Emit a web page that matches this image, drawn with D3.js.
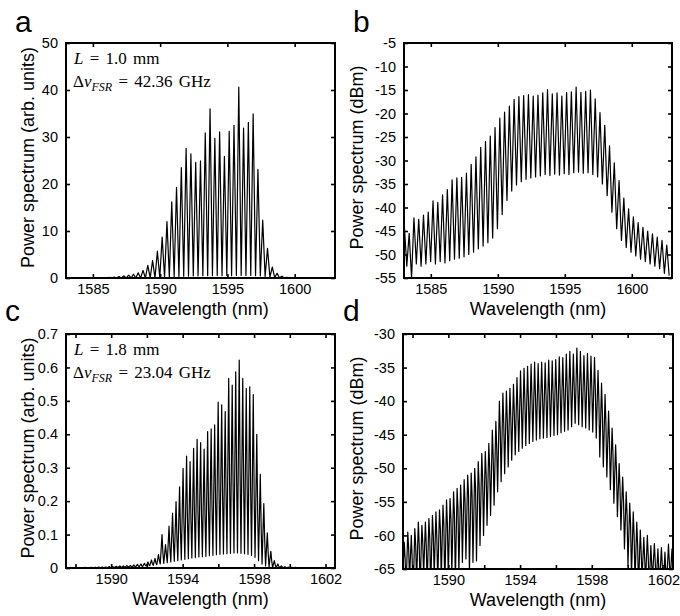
<!DOCTYPE html>
<html>
<head>
<meta charset="utf-8">
<script src="https://cdn.jsdelivr.net/npm/d3@7/dist/d3.min.js"></script>
<style>
body { margin: 0; background: #fff; }
svg { display: block; font-family: "Liberation Sans", Arial, sans-serif; }
</style>
</head>
<body>
<div id="chart"></div>
<script>
// ---- data ----
// panels a/b: L = 1.0 mm, mode spacing ~0.356 nm
var modeStartAB = 1583.03, modeStepAB = 0.356;
// panels c/d: L = 1.8 mm, mode spacing ~0.1965 nm
var modeStartCD = 1587.54, modeStepCD = 0.1965;

var aPeaks = [0.03, 0.03, 0.04, 0.03, 0.04, 0.05, 0.05, 0.06,
    0.08, 0.12, 0.2, 0.3, 0.45, 0.6, 0.8, 1.1, 1.6, 2.7, 3.7, 5.7,
    8.7, 12.0, 16.2, 19.3, 23.5, 27.6, 26.4, 24.6, 24.9, 30.9,
    36.0, 29.7, 31.1, 25.9, 31.2, 32.5, 40.6, 31.9, 33.1, 34.9,
    23.1, 12.3, 6.3, 2.3, 1.0, 0.4, 0.15, 0.08,
    0.05, 0.04, 0.04, 0.03, 0.03, 0.03, 0.02, 0.02];
var aTroughs = [0.01, 0.01, 0.0, 0.01, 0.01, 0.01, 0.01, 0.01, 0.01, 0.01, 0.01, 0.01, 0.01, 0.01, 0.01, 0.01, 0.02, 0.02,
    0.02, 0.03, 0.04, 0.07, 0.13, 0.2, 0.3, 0.35, 0.4, 0.43, 0.45, 0.47, 0.5, 0.48, 0.52, 0.5, 0.53,
    0.5, 0.55, 0.56, 0.54, 0.55, 0.5, 0.45, 0.32, 0.18, 0.08, 0.04, 0.02,
    0.01, 0.01, 0.01, 0.01, 0.01, 0.01, 0.01, 0.01, 0.01, 0.01];

var bPeaks = [-44.1, -45.5, -42.2, -42.5, -41.6, -41.0, -38.6, -38.9, -37.3, -36.2,
    -34.1, -33.7, -33.6, -32.7, -30.8, -29.2, -27.2, -26.0, -24.8, -23.0,
    -21.0, -19.7, -18.4, -17.0, -16.4, -16.2, -16.0, -16.3, -16.1, -15.6,
    -14.9, -15.8, -15.6, -16.3, -15.5, -15.4, -14.4, -15.5, -15.3, -15.0,
    -16.9, -19.8, -22.5, -26.9, -30.5, -34.3, -38.0, -40.3, -42.0, -43.2,
    -44.2, -45.0, -45.6, -46.3, -47.0, -48.0];
var bTroughs = [-50.5, -52.5, -55, -52, -52.5, -52, -51.5, -52, -51.5, -51.8,
    -51.3, -51.0, -50.8, -50.5, -50.0, -49.5, -48.8, -48.2, -47.5, -46.5,
    -44.5, -41.5, -38.5, -36.5, -35.2, -34.5, -34.0, -33.7, -33.5, -33.3,
    -33.0, -33.2, -32.9, -33.1, -32.8, -33.0, -32.6, -32.5, -32.7, -32.6,
    -33.0, -33.5, -35.0, -37.5, -41.0, -44.5, -47.0, -48.5, -49.5, -50.3,
    -51.0, -51.5, -52.0, -52.5, -53.0, -54.0, -54.5];

var cPeaks = [0.001, 0.001, 0.001, 0.0015, 0.001, 0.002, 0.0015, 0.002, 0.002, 0.0025, 0.003, 0.003,
    0.004, 0.004, 0.005, 0.006, 0.006, 0.007, 0.008, 0.009, 0.011, 0.012,
    0.014, 0.018, 0.024, 0.029, 0.04, 0.10, 0.07, 0.125, 0.164, 0.199,
    0.243, 0.298, 0.335, 0.318, 0.358, 0.385, 0.375, 0.356, 0.408, 0.416,
    0.428, 0.496, 0.488, 0.468, 0.567, 0.547, 0.587, 0.622, 0.567, 0.537,
    0.542, 0.519, 0.40, 0.28, 0.193, 0.105, 0.05, 0.022, 0.012, 0.006,
    0.004, 0.003, 0.002, 0.002, 0.0015, 0.001, 0.001, 0.001, 0.001, 0.001, 0.001, 0.001, 0.001, 0.001, 0.001];
var cMids = [0.0005, 0.0005, 0.0005, 0.001, 0.0005, 0.001, 0.001, 0.001, 0.001, 0.0015, 0.0015, 0.002,
    0.002, 0.002, 0.003, 0.003, 0.003, 0.004, 0.004, 0.005, 0.006, 0.006,
    0.008, 0.01, 0.013, 0.016, 0.022, 0.045, 0.04, 0.06, 0.075, 0.09,
    0.11, 0.13, 0.145, 0.14, 0.155, 0.165, 0.16, 0.155, 0.175, 0.18,
    0.2, 0.23, 0.22, 0.215, 0.26, 0.25, 0.27, 0.28, 0.26, 0.245,
    0.235, 0.22, 0.17, 0.12, 0.085, 0.045, 0.022, 0.01, 0.006, 0.003,
    0.002, 0.0015, 0.001, 0.001, 0.001, 0.0005, 0.0005, 0.0005, 0.0005, 0.0005, 0.0005, 0.0005, 0.0005, 0.0005, 0.0005];
var cTroughs = [0.0005, 0.0005, 0.0005, 0.0005, 0.0005, 0.0005, 0.0005, 0.001, 0.001, 0.001, 0.001,
    0.001, 0.0015, 0.0015, 0.002, 0.002, 0.002, 0.0025, 0.003, 0.003, 0.0035,
    0.004, 0.005, 0.006, 0.007, 0.008, 0.01, 0.012, 0.014, 0.016, 0.018,
    0.02, 0.022, 0.024, 0.026, 0.028, 0.03, 0.031, 0.033, 0.034, 0.035,
    0.037, 0.038, 0.04, 0.041, 0.042, 0.043, 0.044, 0.045, 0.045, 0.044,
    0.043, 0.041, 0.038, 0.032, 0.022, 0.012, 0.006, 0.003, 0.0015, 0.001,
    0.001, 0.0008, 0.0006, 0.0005, 0.0005, 0.0005, 0.0005, 0.0005, 0.0005, 0.0005,
    0.0005, 0.0005, 0.0005, 0.0005, 0.0005, 0.0005, 0.0005];

var dPeaks = [-61, -59.5, -60, -59, -58, -58.5, -58, -57.5, -57, -56.5,
    -56.2, -55.5, -54.7, -54.5, -53.5, -53, -52.5, -51.7, -51, -50.7,
    -50, -49, -47.8, -47.5, -46.3, -44.3, -43, -40, -38.8, -38.5,
    -38.1, -37.5, -36.5, -35.5, -35.1, -34.8, -34.5, -34.2, -34.4, -34.2,
    -34.3, -33.9, -34.0, -33.8, -33.4, -33.5, -33.0, -32.6, -33.0, -32.1,
    -32.6, -33.2, -32.9, -33.3, -33.5, -35.4, -37.3, -39.0, -41.5, -44.0,
    -46.5, -49.3, -51.3, -53.5, -55.2, -56.5, -58, -59.2, -60.3, -60,
    -61.5, -61.2, -62, -61.8, -62.5, -61.3, -62];
var dMids = [-63.5, -62, -63.5, -61.5, -61.5, -61, -61.5, -60.5, -60, -60.5,
    -59, -58.5, -58.5, -57.5, -57, -56, -56, -55, -54, -54,
    -53, -52.5, -51.5, -51, -50, -48.5, -47,
    -44.5, -43.5, -43, -42.5, -42, -41.5, -40.5, -40, -39.8, -39.5,
    -39.2, -39.4, -39, -39.2, -38.8, -38.9, -38.6, -38.4, -38.5, -38,
    -37.6, -38, -37.2, -37.6, -38, -37.8, -38.2, -38.5, -40, -42,
    -43.5, -46, -48, -50.5, -53, -55, -57, -58.5, -60, -61.5,
    -62.5, -63.5, -63, -64.5, -64, -65, -64.5, -65.5, -64, -65];
var dTroughs = [-67, -68, -66.5, -69, -67, -68, -66, -67.5, -68, -66, -67, -66.5, -68, -66, -65.8, -67,
    -65.5, -64, -63.5, -65.5, -64, -63.8, -61.5, -60, -58.5, -57,
    -55.5, -53.5, -52, -50.8, -49.8, -48.8, -48, -47.5, -47, -46.6,
    -46.3, -46, -45.8, -45.6, -45.5, -45.4, -45.3, -45.1, -45, -44.7,
    -44.5, -44.3, -43.8, -43.3, -43.5, -43.8, -44, -44.3, -44.6, -45.5,
    -48.3, -49.8, -51.3, -53.2, -55.2, -57.2, -59.2, -62, -64.5,
    -66, -67, -68, -66.5, -67, -68, -66, -67.5, -66.8, -68, -67, -66.5, -68];

// tick values
var abXTicks = [1585, 1590, 1595, 1600];
var cdXTicks = [1588, 1590, 1592, 1594, 1596, 1598, 1600, 1602];
var cdXLabels = [1590, 1594, 1598, 1602];
var aYTicks = [0, 10, 20, 30, 40, 50];
var bYTicks = [-55, -50, -45, -40, -35, -30, -25, -20, -15, -10, -5];
var cYTicks = [0, 0.1, 0.2, 0.3, 0.4, 0.5, 0.6, 0.7];
var dYTicks = [-65, -60, -55, -50, -45, -40, -35, -30];

// ---- drawing ----
var midFrac = 0.25;

var svg = d3.select("#chart").append("svg")
    .attr("width", 680)
    .attr("height", 616);

//turn mode peaks/troughs into a polyline: trough, peak, (secondary), trough ...
function buildPoints(start, step, peaks, troughs, mids) {
    var pts = [];
    peaks.forEach(function(p, k) {
        var c = start + k * step;
        pts.push([c - step / 2, troughs[k]]);
        pts.push([c, p]);
        if (mids) pts.push([c + step * midFrac, mids[k]]);
    });
    pts.push([start + (peaks.length - 0.5) * step, troughs[peaks.length]]);
    return pts;
}

function drawPanel(cfg) {
    var g = svg.append("g")
        .attr("transform", "translate(" + cfg.left + "," + cfg.top + ")");

    var x = d3.scaleLinear().domain(cfg.xDomain).range([0, cfg.width]);
    var y = d3.scaleLinear().domain(cfg.yDomain).range([cfg.height, 0]);

    g.append("clipPath").attr("id", "clip-" + cfg.id)
        .append("rect")
        .attr("width", cfg.width)
        .attr("height", cfg.height);

    var line = d3.line()
        .x(function(d) { return x(d[0]); })
        .y(function(d) { return y(d[1]); });

    g.append("path")
        .datum(cfg.points)
        .attr("clip-path", "url(#clip-" + cfg.id + ")")
        .attr("fill", "none")
        .attr("stroke", "#000")
        .attr("stroke-width", 1.2)
        .attr("stroke-linejoin", "round")
        .attr("d", line);

    //ticks point inwards on all four sides, labels only bottom/left
    var bottom = g.append("g")
        .attr("transform", "translate(0," + cfg.height + ")")
        .call(d3.axisBottom(x).tickValues(cfg.xTicks).tickSize(-4).tickPadding(6)
            .tickFormat(function(d) { return cfg.xLabels.indexOf(d) >= 0 ? d : ""; }));
    var top = g.append("g")
        .call(d3.axisTop(x).tickValues(cfg.xTicks).tickSize(-4).tickFormat(""));
    var left = g.append("g")
        .call(d3.axisLeft(y).tickValues(cfg.yTicks).tickSize(-4).tickPadding(8).tickFormat(cfg.yFormat));
    var right = g.append("g")
        .attr("transform", "translate(" + cfg.width + ",0)")
        .call(d3.axisRight(y).tickValues(cfg.yTicks).tickSize(-4).tickFormat(""));

    [bottom, top, left, right].forEach(function(a) {
        a.select(".domain").remove();
        a.selectAll(".tick line").attr("stroke", "#000").attr("stroke-width", 1.6);
        a.selectAll("text")
            .attr("fill", "#000")
            .style("font-size", "14.5px")
            .style("font-family", "'Liberation Sans', Arial, sans-serif");
    });

    g.append("rect")
        .attr("width", cfg.width)
        .attr("height", cfg.height)
        .attr("fill", "none")
        .attr("stroke", "#000")
        .attr("stroke-width", 2);

    //axis titles
    g.append("text")
        .attr("x", cfg.width / 2)
        .attr("y", cfg.height + 37)
        .attr("text-anchor", "middle")
        .style("font-size", "18px")
        .text("Wavelength (nm)");

    svg.append("text")
        .attr("transform", "translate(" + cfg.yTitleX + "," + (cfg.top + cfg.height / 2 - 3) + ") rotate(-90)")
        .attr("text-anchor", "middle")
        .style("font-size", "18px")
        .text(cfg.yTitle);

    //panel letter
    svg.append("text")
        .attr("x", cfg.letterX)
        .attr("y", cfg.letterY)
        .style("font-size", "30px")
        .text(cfg.letter);

    //parameter annotation
    if (cfg.note) {
        var n1 = g.append("text")
            .attr("x", 8).attr("y", 21)
            .style("font-family", "'Liberation Serif', 'Times New Roman', serif")
            .style("font-size", "17px")
            .style("word-spacing", "2px");
        n1.append("tspan").style("font-style", "italic").text("L");
        n1.append("tspan").text(" = " + cfg.note.length + " mm");

        var n2 = g.append("text")
            .attr("x", 7).attr("y", 44)
            .style("font-family", "'Liberation Serif', 'Times New Roman', serif")
            .style("font-size", "17px")
            .style("word-spacing", "2px");
        n2.append("tspan").text("Δ");
        n2.append("tspan").style("font-style", "italic").text("ν");
        n2.append("tspan").style("font-style", "italic").style("font-size", "12px")
            .attr("dy", 4).text("FSR");
        n2.append("tspan").attr("dy", -4).text(" = " + cfg.note.fsr + " GHz");
    }
}

function fmtInt(d) { return String(d); }
function fmtOne(d) { return d === 0 ? "0" : d3.format(".1f")(d); }

drawPanel({
    id: "a", left: 66, top: 43, width: 269, height: 235,
    xDomain: [1583, 1603], yDomain: [0, 50],
    xTicks: abXTicks, xLabels: abXTicks, yTicks: aYTicks, yFormat: fmtInt,
    points: buildPoints(modeStartAB, modeStepAB, aPeaks, aTroughs),
    yTitle: "Power spectrum (arb. units)", yTitleX: 34,
    letter: "a", letterX: 15, letterY: 32,
    note: { length: "1.0", fsr: "42.36" }
});

drawPanel({
    id: "b", left: 404, top: 43, width: 268, height: 235,
    xDomain: [1583, 1603], yDomain: [-55, -5],
    xTicks: abXTicks, xLabels: abXTicks, yTicks: bYTicks, yFormat: fmtInt,
    points: buildPoints(modeStartAB, modeStepAB, bPeaks, bTroughs),
    yTitle: "Power spectrum (dBm)", yTitleX: 363,
    letter: "b", letterX: 353, letterY: 32
});

drawPanel({
    id: "c", left: 66, top: 334, width: 269, height: 234,
    xDomain: [1587.47, 1602.53], yDomain: [0, 0.7],
    xTicks: cdXTicks, xLabels: cdXLabels, yTicks: cYTicks, yFormat: fmtOne,
    points: buildPoints(modeStartCD, modeStepCD, cPeaks, cTroughs, cMids),
    yTitle: "Power spectrum (arb. units)", yTitleX: 34,
    letter: "c", letterX: 5, letterY: 321,
    note: { length: "1.8", fsr: "23.04" }
});

drawPanel({
    id: "d", left: 403, top: 334, width: 270, height: 235,
    xDomain: [1587.47, 1602.53], yDomain: [-65, -30],
    xTicks: cdXTicks, xLabels: cdXLabels, yTicks: dYTicks, yFormat: fmtInt,
    points: buildPoints(modeStartCD, modeStepCD, dPeaks, dTroughs, dMids),
    yTitle: "Power spectrum (dBm)", yTitleX: 363,
    letter: "d", letterX: 343, letterY: 321
});
</script>
</body>
</html>
